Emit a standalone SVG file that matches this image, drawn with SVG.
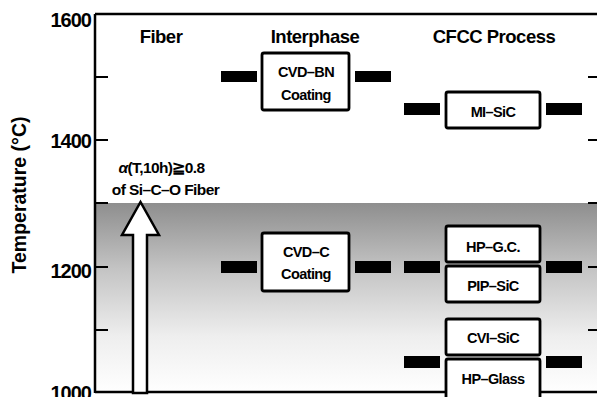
<svg xmlns="http://www.w3.org/2000/svg" width="597" height="397" viewBox="0 0 597 397">
<defs>
<linearGradient id="shade" x1="0" y1="0" x2="0" y2="1">
<stop offset="0" stop-color="#8e8e8e"/>
<stop offset="0.35" stop-color="#c4c4c4"/>
<stop offset="0.7" stop-color="#eeeeee"/>
<stop offset="1" stop-color="#ffffff"/>
</linearGradient>
<style>
text{font-family:"Liberation Sans",Arial,sans-serif;font-weight:bold;fill:#000}
.tick{font-size:20px;letter-spacing:-1px;text-anchor:end}
.head{font-size:18.5px;letter-spacing:-0.5px;text-anchor:middle}
.lbl{font-size:14.5px;letter-spacing:-0.6px;text-anchor:middle}
.ann{font-size:15.5px;letter-spacing:-0.6px;text-anchor:middle}
.box{fill:#fff;stroke:#000;stroke-width:2.8}
.bar{fill:#000}
.axis{stroke:#000;stroke-width:2.5;fill:none}
.tk{stroke:#000;stroke-width:2}
</style>
</defs>
<rect x="0" y="0" width="597" height="397" fill="#fff"/>
<rect x="95" y="203" width="502" height="190" fill="url(#shade)"/>
<g id="axes">
<line class="axis" x1="95" y1="14" x2="597" y2="14"/>
<line class="axis" x1="95" y1="14" x2="95" y2="393"/>
<line class="axis" x1="95" y1="392" x2="597" y2="392"/>
<line class="tk" x1="95" y1="77" x2="108" y2="77"/>
<line class="tk" x1="95" y1="140" x2="108" y2="140"/>
<line class="tk" x1="95" y1="203" x2="108" y2="203"/>
<line class="tk" x1="95" y1="267" x2="108" y2="267"/>
<line class="tk" x1="95" y1="330" x2="108" y2="330"/>
<line class="tk" x1="588" y1="77" x2="597" y2="77"/>
<line class="tk" x1="588" y1="140" x2="597" y2="140"/>
<line class="tk" x1="588" y1="203" x2="597" y2="203"/>
<line class="tk" x1="588" y1="267" x2="597" y2="267"/>
<line class="tk" x1="588" y1="330" x2="597" y2="330"/>
<text class="tick" x="91" y="27">1600</text>
<text class="tick" x="91" y="148">1400</text>
<text class="tick" x="91" y="278">1200</text>
<text class="tick" x="91" y="400">1000</text>
<text font-size="19.5" text-anchor="middle" transform="translate(26,195) rotate(-90)">Temperature  (°C)</text>
</g>
<g id="headers">
<text class="head" x="161" y="43">Fiber</text>
<text class="head" x="315" y="43">Interphase</text>
<text class="head" x="494" y="43">CFCC Process</text>
</g>
<g id="connectors">
<rect class="bar" x="221" y="71" width="36" height="11"/>
<rect class="bar" x="355" y="71" width="36" height="11"/>
<rect class="bar" x="404" y="103" width="36" height="12"/>
<rect class="bar" x="546" y="103" width="36" height="12"/>
<rect class="bar" x="221" y="261" width="36" height="12"/>
<rect class="bar" x="355" y="261" width="36" height="12"/>
<rect class="bar" x="404" y="261" width="36" height="12"/>
<rect class="bar" x="546" y="261" width="36" height="12"/>
<rect class="bar" x="404" y="356" width="36" height="12"/>
<rect class="bar" x="546" y="356" width="36" height="12"/>
</g>
<g id="fiber-arrow">
<polygon points="133,393 133,235 122,235 140.5,202 159,235 147,235 147,393" fill="#fff" stroke="#000" stroke-width="2.5" stroke-linejoin="miter"/>
<text class="ann" x="161.5" y="173"><tspan font-style="italic">α</tspan>(T,10h)≧0.8</text>
<text class="ann" x="165.5" y="195">of Si–C–O Fiber</text>
</g>
<g id="cvd-bn">
<rect class="box" x="262" y="53" width="87" height="57" rx="2"/>
<text class="lbl" x="306" y="77">CVD–BN</text>
<text class="lbl" x="306" y="100">Coating</text>
</g>
<g id="mi-sic">
<rect class="box" x="446" y="92" width="94" height="36" rx="2"/>
<text class="lbl" x="493" y="117">MI–SiC</text>
</g>
<g id="cvd-c">
<rect class="box" x="262" y="233" width="87" height="58" rx="2"/>
<text class="lbl" x="306" y="257">CVD–C</text>
<text class="lbl" x="306" y="279">Coating</text>
</g>
<g id="hp-gc">
<rect class="box" x="446" y="226" width="94" height="36" rx="2"/>
<text class="lbl" x="493" y="252">HP–G.C.</text>
</g>
<g id="pip-sic">
<rect class="box" x="446" y="266" width="94" height="36" rx="2"/>
<text class="lbl" x="493" y="291">PIP–SiC</text>
</g>
<g id="cvi-sic">
<rect class="box" x="446" y="319" width="94" height="36" rx="2"/>
<text class="lbl" x="493" y="343">CVI–SiC</text>
</g>
<g id="hp-glass">
<rect class="box" x="446" y="359" width="94" height="40" rx="2"/>
<text class="lbl" x="493" y="384">HP–Glass</text>
</g>
</svg>
